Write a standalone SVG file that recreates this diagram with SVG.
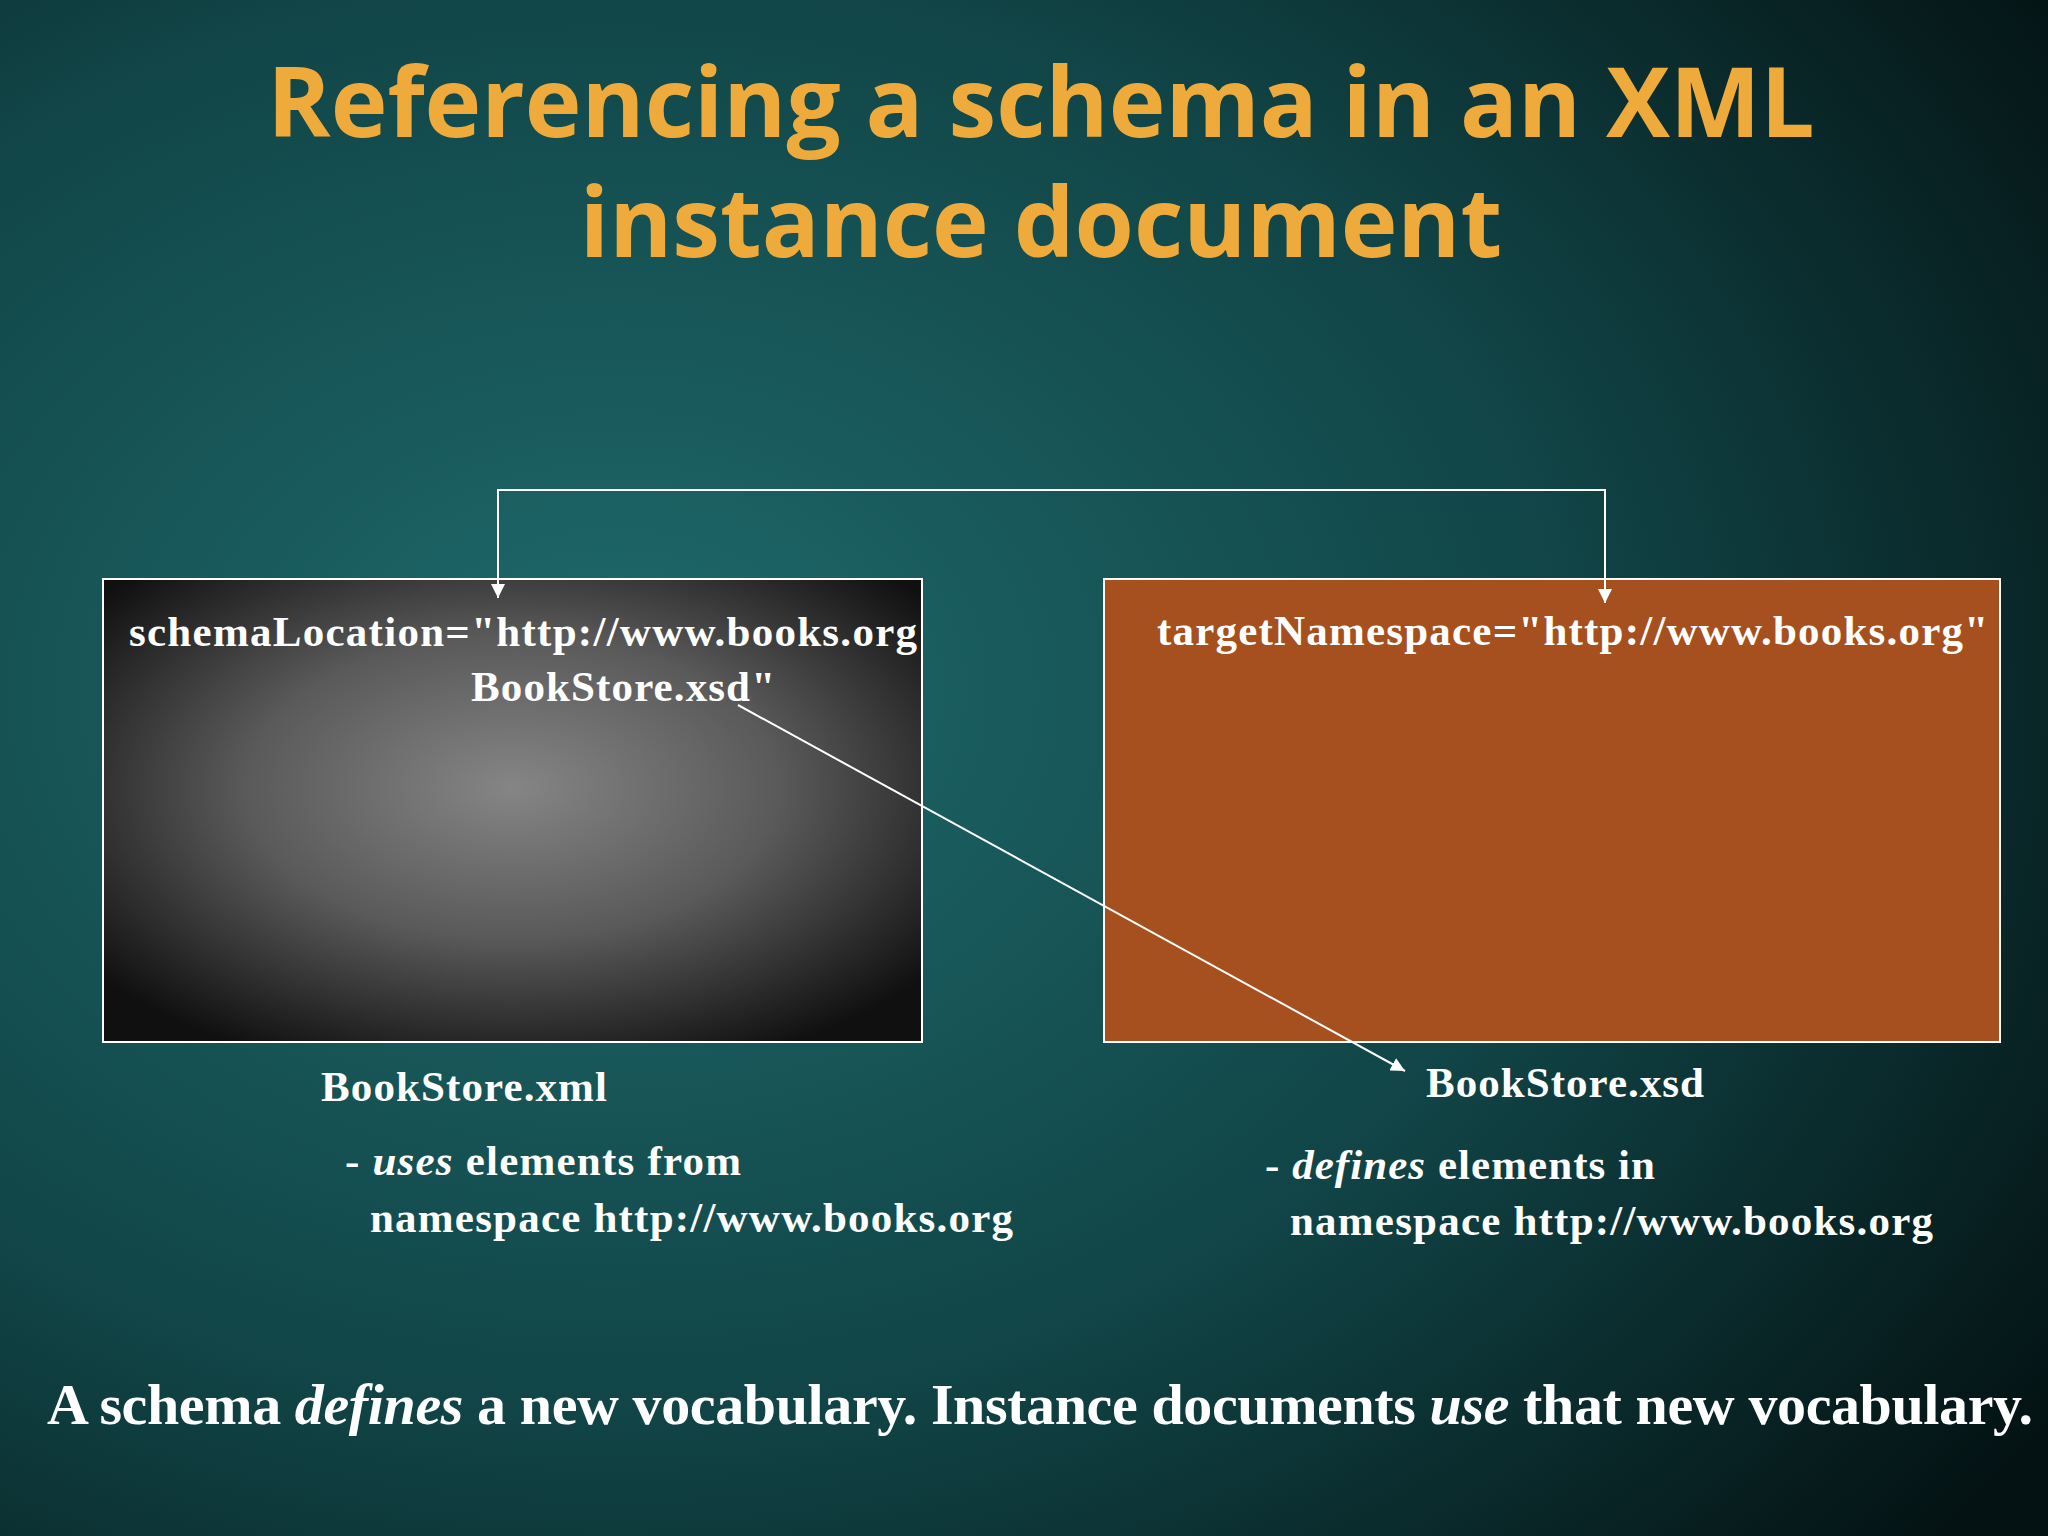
<svg xmlns="http://www.w3.org/2000/svg" width="2048" height="1536" viewBox="0 0 2048 1536">
<defs>
<radialGradient id="bg" cx="0.3" cy="0.45" r="0.85">
<stop offset="0" stop-color="#1f6a6c"/><stop offset="0.55" stop-color="#114547"/><stop offset="1" stop-color="#041213"/>
</radialGradient>
<radialGradient id="gr" cx="0.5" cy="0.45" r="0.65">
<stop offset="0" stop-color="#858585"/><stop offset="0.5" stop-color="#5a5a5a"/><stop offset="1" stop-color="#101010"/>
</radialGradient>
<marker id="ah" viewBox="0 0 10 10" refX="10" refY="5" markerWidth="14" markerHeight="14" markerUnits="userSpaceOnUse" orient="auto"><path d="M0,0L10,5L0,10z" fill="#fff"/></marker>
<style>
.t{font-family:"Liberation Serif",serif;font-weight:bold;fill:#fff;font-size:43px}
.b{font-size:58px}
.h{font-family:"Open Sans","DejaVu Sans",sans-serif;font-weight:bold;fill:#eeaa3a;font-size:96px}
.c{fill:none;stroke:#fff;stroke-width:2}
</style>
</defs>
<rect width="2048" height="1536" fill="url(#bg)"/>
<text class="h" x="1041" y="137" text-anchor="middle">Referencing a schema in an XML</text>
<text class="h" x="1041" y="257" text-anchor="middle">instance document</text>
<g id="xml"><rect x="103" y="579" width="819" height="463" fill="url(#gr)" stroke="#fff" stroke-width="2"/>
<text class="t" x="129" y="646" textLength="788">schemaLocation="http://www.books.org</text>
<text class="t" x="471" y="701" textLength="304">BookStore.xsd"</text></g>
<g id="xsd"><rect x="1104" y="579" width="896" height="463" fill="#a5501e" stroke="#fff" stroke-width="2"/>
<text class="t" x="1157" y="645" textLength="831">targetNamespace="http://www.books.org"</text></g>
<g id="connectors">
<path class="c" d="M498,598V490H1605V603" marker-end="url(#ah)"/>
<path class="c" d="M498,490V598" marker-end="url(#ah)"/>
<path class="c" d="M738,705L1405,1071" marker-end="url(#ah)"/>
</g>
<g id="labels">
<text class="t" x="321" y="1101" textLength="286">BookStore.xml</text>
<text class="t" x="345" y="1175" textLength="396">- <tspan font-style="italic">uses</tspan> elements from</text>
<text class="t" x="370" y="1232" textLength="643">namespace http://www.books.org</text>
<text class="t" x="1426" y="1097" textLength="278">BookStore.xsd</text>
<text class="t" x="1265" y="1179" textLength="390">- <tspan font-style="italic">defines</tspan> elements in</text>
<text class="t" x="1290" y="1235" textLength="643">namespace http://www.books.org</text>
<text class="t b" x="47" y="1424" textLength="1986">A schema <tspan font-style="italic">defines</tspan> a new vocabulary.  Instance documents <tspan font-style="italic">use</tspan> that new vocabulary.</text>
</g>
</svg>
